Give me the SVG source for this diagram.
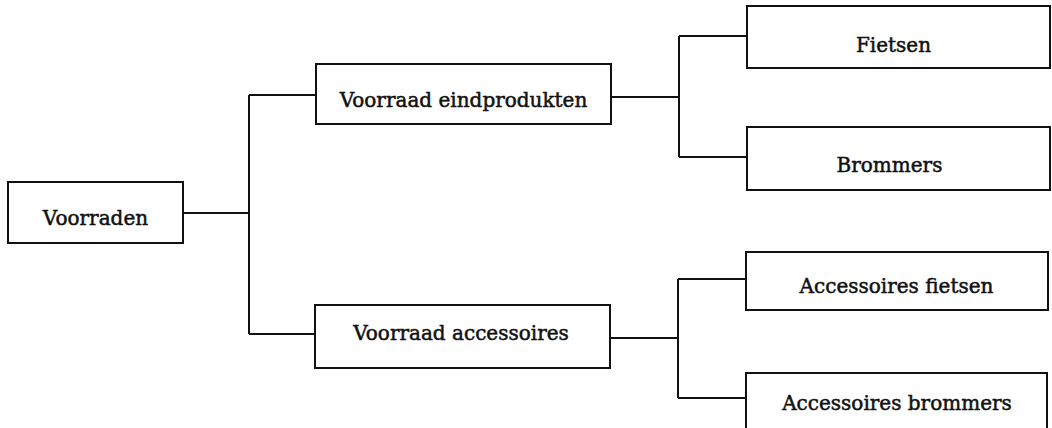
<svg xmlns="http://www.w3.org/2000/svg" width="1052" height="428" viewBox="0 0 1052 428">
  <style>
    .box { fill: #ffffff; stroke: #111111; stroke-width: 2; }
    .lbl { font-family: "DejaVu Serif", "Liberation Serif", serif; font-size: 20px; fill: #111111; stroke: #111111; stroke-width: 0.5; text-anchor: middle; }
    .link { fill: none; stroke: #111111; stroke-width: 2; }
  </style>
  <rect width="1052" height="428" fill="#ffffff"/>

  <g id="connectors">
    <!-- root to level 1 -->
    <path class="link" d="M183 213 H249 M249 95 V334 M249 95 H316 M249 334 H315"/>
    <!-- Voorraad eindprodukten to its children -->
    <path class="link" d="M611 97 H679 M679 36 V157 M679 36 H747 M679 157 H747"/>
    <!-- Voorraad accessoires to its children -->
    <path class="link" d="M610 338 H678 M678 279 V398 M678 279 H746 M678 398 H746"/>
  </g>

  <g id="voorraden">
    <rect class="box" x="8" y="182" width="175" height="61"/>
    <text class="lbl" x="95.5" y="225">Voorraden</text>
  </g>

  <g id="voorraad-eindprodukten">
    <rect class="box" x="316" y="64" width="295" height="60"/>
    <text class="lbl" x="463.5" y="107">Voorraad eindprodukten</text>
  </g>

  <g id="voorraad-accessoires">
    <rect class="box" x="315" y="305" width="295" height="63"/>
    <text class="lbl" x="461" y="340">Voorraad accessoires</text>
  </g>

  <g id="fietsen">
    <rect class="box" x="747" y="6" width="303" height="62"/>
    <text class="lbl" x="893.5" y="52">Fietsen</text>
  </g>

  <g id="brommers">
    <rect class="box" x="747" y="127" width="303" height="63"/>
    <text class="lbl" x="889.5" y="172">Brommers</text>
  </g>

  <g id="accessoires-fietsen">
    <rect class="box" x="746" y="252" width="302" height="58"/>
    <text class="lbl" x="896.5" y="293">Accessoires fietsen</text>
  </g>

  <g id="accessoires-brommers">
    <rect class="box" x="746" y="373" width="301" height="60"/>
    <text class="lbl" x="897" y="410">Accessoires brommers</text>
  </g>
</svg>
